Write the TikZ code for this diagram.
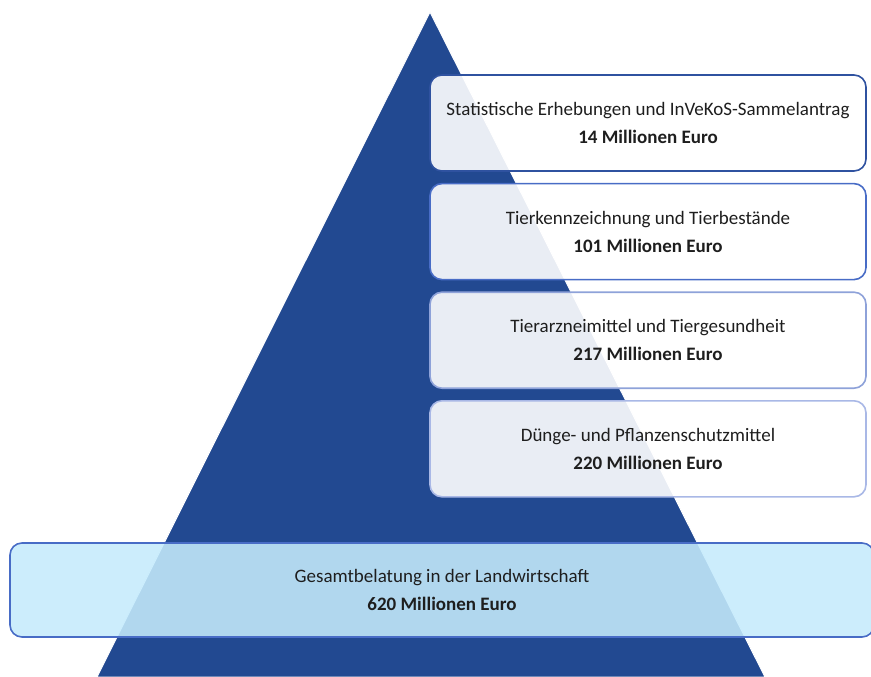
\documentclass[tikz,border=0pt]{standalone}
\usepackage{fontspec}
\setmainfont{Carlito}
\usepackage{xcolor}
\usetikzlibrary{positioning}
\definecolor{pyrblue}{RGB}{34,73,145}
\definecolor{edgeA}{RGB}{47,82,160}
\definecolor{edgeB}{RGB}{72,108,198}
\definecolor{edgeC}{RGB}{142,162,217}
\definecolor{edgeD}{RGB}{169,184,230}
\definecolor{basefill}{RGB}{197,235,252}
\definecolor{txtgray}{RGB}{30,30,30}
\tikzset{
  costbox/.style={draw, line width=1.6pt, rounded corners=12pt, fill=white, fill opacity=0.9, text opacity=1,
    minimum width=436pt, minimum height=96pt, align=center, text=txtgray, font=\fontsize{19}{28}\selectfont},
}
\begin{document}
\begin{tikzpicture}[x=1pt,y=-1pt]
\useasboundingbox (0,0) rectangle (871,677);
% pyramid
\fill[pyrblue, draw=white, line width=1pt] (430,12) -- (765,677) -- (97,677) -- cycle;
% cost layers
\node[costbox, draw=edgeA] (erhebung) at (648,123) {Statistische Erhebungen und InVeKoS-Sammelantrag\\\textbf{14 Millionen Euro}};
\node[costbox, draw=edgeB, below=11pt of erhebung] (tierkenn) {Tierkennzeichnung und Tierbestände\\\textbf{101 Millionen Euro}};
\node[costbox, draw=edgeC, below=11pt of tierkenn] (tierarznei) {Tierarzneimittel und Tiergesundheit\\\textbf{217 Millionen Euro}};
\node[costbox, draw=edgeD, below=11pt of tierarznei] (duenge) {Dünge- und Pflanzenschutzmittel\\\textbf{220 Millionen Euro}};
% total
\node[costbox, draw=edgeB, fill=basefill, fill opacity=0.88, minimum width=864pt, minimum height=94pt] (gesamt) at (442,590) {Gesamtbelatung in der Landwirtschaft\\\textbf{620 Millionen Euro}};
\end{tikzpicture}
\end{document}
